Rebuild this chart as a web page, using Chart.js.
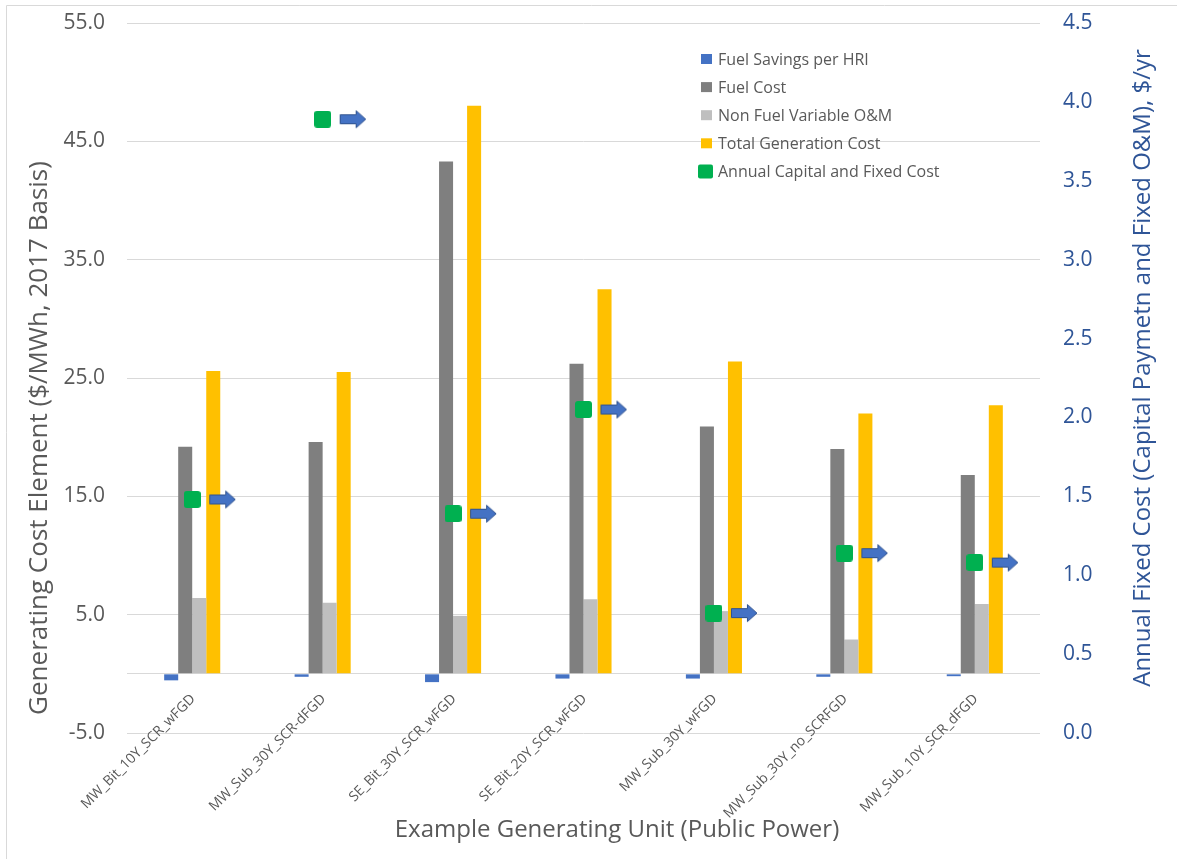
<!DOCTYPE html>
<html>
<head>
<meta charset="utf-8">
<script src="https://cdn.jsdelivr.net/npm/chart.js@4.4.0/dist/chart.umd.min.js"></script>
<style>
  html, body { margin: 0; padding: 0; background: #fff; }
  #wrap { position: relative; width: 1177px; height: 859px; }
</style>
</head>
<body>
<div id="wrap"><canvas id="grafico"></canvas></div>
<script>
// datos
const unidades = ['MW_Bit_10Y_SCR_wFGD', 'MW_Sub_30Y_SCR-dFGD', 'SE_Bit_30Y_SCR_wFGD', 'SE_Bit_20Y_SCR_wFGD',
                  'MW_Sub_30Y_wFGD', 'MW_Sub_30Y_no_SCRFGD', 'MW_Sub_10Y_SCR_dFGD'];
const ahorroCombustible = [-0.55, -0.25, -0.7, -0.4, -0.4, -0.25, -0.2];
const costoCombustible = [19.2, 19.6, 43.3, 26.2, 20.9, 19.0, 16.8];
const omVariable = [6.4, 6.0, 4.9, 6.3, 5.3, 2.9, 5.9];
const costoTotal = [25.6, 25.5, 48.0, 32.5, 26.4, 22.0, 22.7];
const costoFijoAnual = [1.48, 3.89, 1.39, 2.05, 0.76, 1.14, 1.08];

const ticksIzq = [-5, 5, 15, 25, 35, 45, 55];

const tituloX = 'Example Generating Unit (Public Power)';
const tituloIzq = 'Generating Cost Element ($/MWh, 2017 Basis)';
const tituloDer = 'Annual Fixed Cost (Capital Paymetn and Fixed O&M), $/yr';

const FUENTE = "'Open Sans', sans-serif";
const GRIS_TXT = '#595959';
const AZUL_TXT = '#2F5597';

// marcador verde (cuadro redondeado)
function crearCuadro(lado, color) {
    const c = document.createElement('canvas');
    c.width = lado; c.height = lado;
    const g = c.getContext('2d');
    g.fillStyle = color;
    g.beginPath();
    g.roundRect(0, 0, lado, lado, 3);
    g.fill();
    return c;
}

// flecha azul a la derecha del punto
function crearFlecha() {
    const c = document.createElement('canvas');
    c.width = 88; c.height = 20;
    const g = c.getContext('2d');
    g.fillStyle = '#4472C4';
    g.strokeStyle = '#2F528F';
    g.lineWidth = 1;
    g.beginPath();
    g.moveTo(61.5, 5.5);
    g.lineTo(77.5, 5.5);
    g.lineTo(77.5, 1.5);
    g.lineTo(87, 10);
    g.lineTo(77.5, 18.5);
    g.lineTo(77.5, 14.5);
    g.lineTo(61.5, 14.5);
    g.closePath();
    g.fill();
    g.stroke();
    return c;
}

const cuadroVerde = crearCuadro(17, '#00B050');
const flecha = crearFlecha();

// leyenda, etiquetas del eje X, titulos y borde
const extrasPlugin = {
    id: 'extras',
    beforeDraw(chart) {
        const ctx = chart.ctx;
        ctx.save();
        ctx.strokeStyle = '#D9D9D9';
        ctx.lineWidth = 1;
        ctx.beginPath();
        ctx.moveTo(6.5, 859);
        ctx.lineTo(6.5, 5.5);
        ctx.lineTo(1177, 5.5);
        ctx.stroke();
        ctx.restore();
    },
    afterDraw(chart) {
        const ctx = chart.ctx;
        const escX = chart.scales.x;
        const ceroY = chart.scales.y.getPixelForValue(0);

        // etiquetas rotadas pegadas a la linea de cero
        ctx.save();
        ctx.font = '14px ' + FUENTE;
        ctx.fillStyle = GRIS_TXT;
        ctx.textAlign = 'right';
        ctx.textBaseline = 'middle';
        unidades.forEach((u, i) => {
            const px = escX.getPixelForValue(i);
            ctx.save();
            ctx.translate(px + 1, ceroY + 23);
            ctx.rotate(-Math.PI / 4);
            ctx.fillText(u, 0, 0);
            ctx.restore();
        });
        ctx.restore();

        // titulos de ejes
        ctx.save();
        ctx.textAlign = 'center';
        ctx.textBaseline = 'middle';
        ctx.fillStyle = GRIS_TXT;
        ctx.font = '24px ' + FUENTE;
        ctx.fillText(tituloX, 617, 830);
        ctx.save();
        ctx.translate(40, 438);
        ctx.rotate(-Math.PI / 2);
        ctx.font = '26px ' + FUENTE;
        ctx.fillText(tituloIzq, 0, 0);
        ctx.restore();
        ctx.save();
        ctx.translate(1143, 368);
        ctx.rotate(-Math.PI / 2);
        ctx.fillStyle = AZUL_TXT;
        ctx.fillText(tituloDer, 0, 0);
        ctx.restore();
        ctx.restore();

        // leyenda
        ctx.save();
        ctx.font = '16px ' + FUENTE;
        ctx.textBaseline = 'middle';
        ctx.textAlign = 'left';
        let y = 59;
        chart.data.datasets.forEach(ds => {
            if (ds.enLeyenda === false) return;
            if (ds.type === 'line') {
                ctx.fillStyle = '#00B050';
                ctx.beginPath();
                ctx.roundRect(698, y - 7, 15, 14, 2);
                ctx.fill();
            } else {
                ctx.fillStyle = ds.backgroundColor;
                ctx.fillRect(701, y - 5, 11, 10);
            }
            ctx.fillStyle = GRIS_TXT;
            ctx.fillText(ds.label, 718, y + 1);
            y += 28.1;
        });
        ctx.restore();
    }
};

new Chart(document.getElementById('grafico'), {
    data: {
        labels: unidades,
        datasets: [
            { type: 'bar', label: 'Fuel Savings per HRI', data: ahorroCombustible, backgroundColor: '#4472C4', order: 1 },
            { type: 'bar', label: 'Fuel Cost', data: costoCombustible, backgroundColor: '#7F7F7F', order: 1 },
            { type: 'bar', label: 'Non Fuel Variable O&M', data: omVariable, backgroundColor: '#BFBFBF', order: 1 },
            { type: 'bar', label: 'Total Generation Cost', data: costoTotal, backgroundColor: '#FFC000', order: 1 },
            {
                type: 'line', label: 'Annual Capital and Fixed Cost', data: costoFijoAnual,
                yAxisID: 'y1', showLine: false, pointStyle: cuadroVerde, order: 0
            },
            {
                type: 'line', label: 'flecha', data: costoFijoAnual, enLeyenda: false,
                yAxisID: 'y1', showLine: false, pointStyle: flecha, order: 0
            }
        ]
    },
    options: {
        responsive: true,
        maintainAspectRatio: false,
        animation: false,
        layout: { padding: { left: 0, right: 0, top: 23, bottom: 0 } },
        datasets: { bar: { categoryPercentage: 0.43, barPercentage: 1.0 } },
        plugins: { legend: { display: false }, tooltip: { enabled: false } },
        scales: {
            x: {
                grid: { display: false, drawTicks: false },
                border: { display: false },
                ticks: { display: false },
                afterFit(s) { s.height = 126; s.paddingLeft = 0; s.paddingRight = 0; }
            },
            y: {
                position: 'left', min: -5, max: 55,
                afterBuildTicks(s) {
                    s.ticks = ticksIzq.concat([0]).sort((a, b) => a - b).map(v => ({ value: v }));
                },
                grid: { color: '#D9D9D9', drawTicks: false },
                border: { display: false },
                ticks: {
                    padding: 22, color: GRIS_TXT, font: { family: FUENTE, size: 21 },
                    callback: v => (v === 0 ? '' : v.toFixed(1))
                },
                afterFit(s) { s.width = 127; s.paddingTop = 0; s.paddingBottom = 0; }
            },
            y1: {
                position: 'right', min: 0, max: 4.5,
                grid: { display: false, drawTicks: false },
                border: { display: false },
                ticks: {
                    stepSize: 0.5, padding: 23, color: AZUL_TXT, font: { family: FUENTE, size: 21 },
                    callback: v => v.toFixed(1)
                },
                afterFit(s) { s.width = 137; s.paddingTop = 0; s.paddingBottom = 0; }
            }
        }
    },
    plugins: [extrasPlugin]
});
</script>
</body>
</html>
